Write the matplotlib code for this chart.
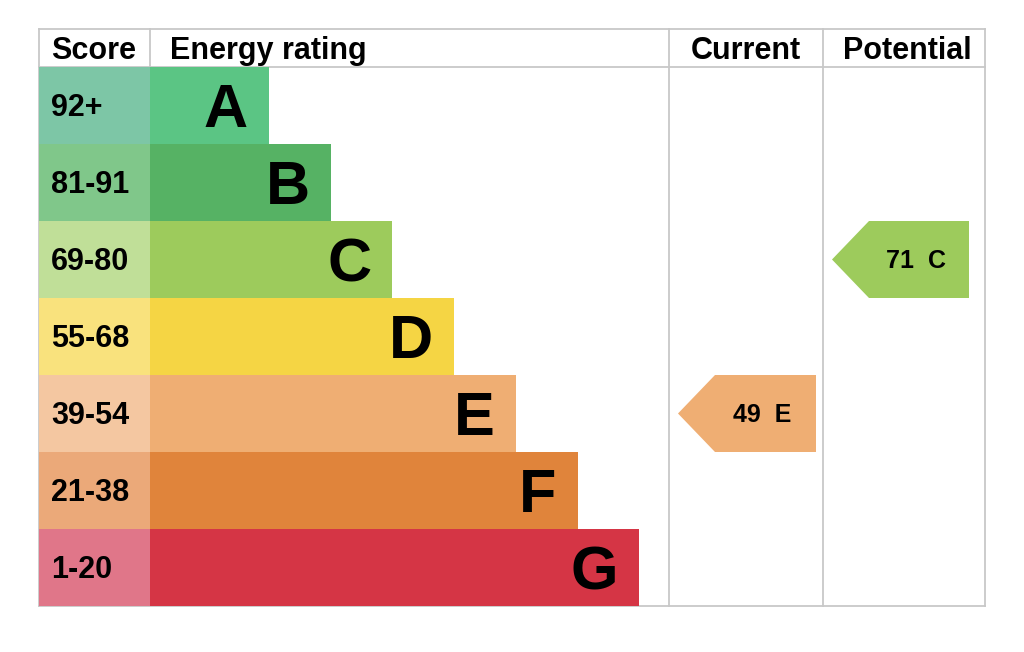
import matplotlib.pyplot as plt
from matplotlib.patches import Polygon

plt.rcParams['font.family'] = ['Liberation Sans', 'DejaVu Sans']

# Data
ratings = ['A', 'B', 'C', 'D', 'E', 'F', 'G']
score_labels = ['92+', '81-91', '69-80', '55-68', '39-54', '21-38', '1-20']
score_low = [92, 81, 69, 55, 39, 21, 1]
current_score = 49
potential_score = 71

bar_colors = ['#5bc584', '#56b264', '#9dcb5c', '#f5d544', '#efae73', '#e0843b', '#d53545']
score_colors = ['#7dc6a6', '#80c78a', '#c0df98', '#f9e27d', '#f4c7a1', '#eba979', '#e07689']

DPI = 100
fig = plt.figure(figsize=(10.24, 6.52), dpi=DPI, facecolor='white')
ax = fig.add_axes([0, 0, 1, 1])
ax.set_xlim(0, 1024)
ax.set_ylim(652, 0)
ax.axis('off')

# layout in pixels
left, right = 39, 985
top, head_bot = 29, 67
row_h = 77
col_score = 150
col_cur = 669
col_pot = 823
bar_end0, bar_step = 269, 61.7
grid_col = '#c8c8c8'


def band_of(score):
    for i, lo in enumerate(score_low):
        if score >= lo:
            return i
    return len(score_low) - 1


def cap_off(fs):
    # half the cap height in pixels, for vertical centring on baseline
    return fs * DPI / 72 * 0.716 / 2


n = len(ratings)
ycent = [head_bot + row_h * i + row_h / 2 for i in range(n)]
bottom = head_bot + row_h * n
bar_w = [bar_end0 + bar_step * i - col_score for i in range(n)]

# grid lines
ax.plot([left, right], [top, top], color=grid_col, lw=1.3, zorder=1)
ax.plot([left, right], [head_bot, head_bot], color=grid_col, lw=1.3, zorder=1)
ax.plot([left, right], [bottom, bottom], color=grid_col, lw=1.3, zorder=1)
for xv in [left, col_cur, col_pot, right]:
    ax.plot([xv, xv], [top, bottom], color=grid_col, lw=1.3, zorder=1)
ax.plot([col_score, col_score], [top, head_bot], color=grid_col, lw=1.3, zorder=1)

# score cells and rating bars
ax.barh(ycent, col_score - left, left=left, height=row_h, color=score_colors, lw=0, zorder=2)
ax.barh(ycent, bar_w, left=col_score, height=row_h, color=bar_colors, lw=0, zorder=2)

fs_big, fs_score, fs_head, fs_arrow = 44, 22, 22, 18
for i in range(n):
    ax.text(col_score + bar_w[i] - 21, ycent[i] + cap_off(fs_big), ratings[i],
            fontsize=fs_big, fontweight='bold', ha='right', va='baseline', zorder=3)
    ax.text(51, ycent[i] + cap_off(fs_score), score_labels[i],
            fontsize=fs_score, fontweight='bold', ha='left', va='baseline', zorder=3)

# headers
hy = (top + head_bot) / 2 + cap_off(fs_head)
ax.text(51, hy, 'Score', fontsize=fs_head, fontweight='bold', ha='left', va='baseline')
ax.text(170, hy, 'Energy rating', fontsize=fs_head, fontweight='bold', ha='left', va='baseline')
ax.text((col_cur + col_pot) / 2, hy, 'Current', fontsize=fs_head, fontweight='bold', ha='center', va='baseline')
ax.text((col_pot + right) / 2 + 3, hy, 'Potential', fontsize=fs_head, fontweight='bold', ha='center', va='baseline')


def arrow(score, x0, x1):
    b = band_of(score)
    y0 = head_bot + row_h * b
    y1 = y0 + row_h
    tip = x0
    body = x0 + 37
    pts = [(tip, (y0 + y1) / 2), (body, y0), (x1, y0), (x1, y1), (body, y1)]
    ax.add_patch(Polygon(pts, closed=True, facecolor=bar_colors[b], edgecolor='none', zorder=3))
    ax.text((body + x1) / 2 - 3, (y0 + y1) / 2 + cap_off(fs_arrow), f'{score}  {ratings[b]}',
            fontsize=fs_arrow, fontweight='bold', ha='center', va='baseline', zorder=4)


arrow(current_score, 678, 816)
arrow(potential_score, 832, 969)

fig.savefig('out.png', dpi=DPI, facecolor='white')
